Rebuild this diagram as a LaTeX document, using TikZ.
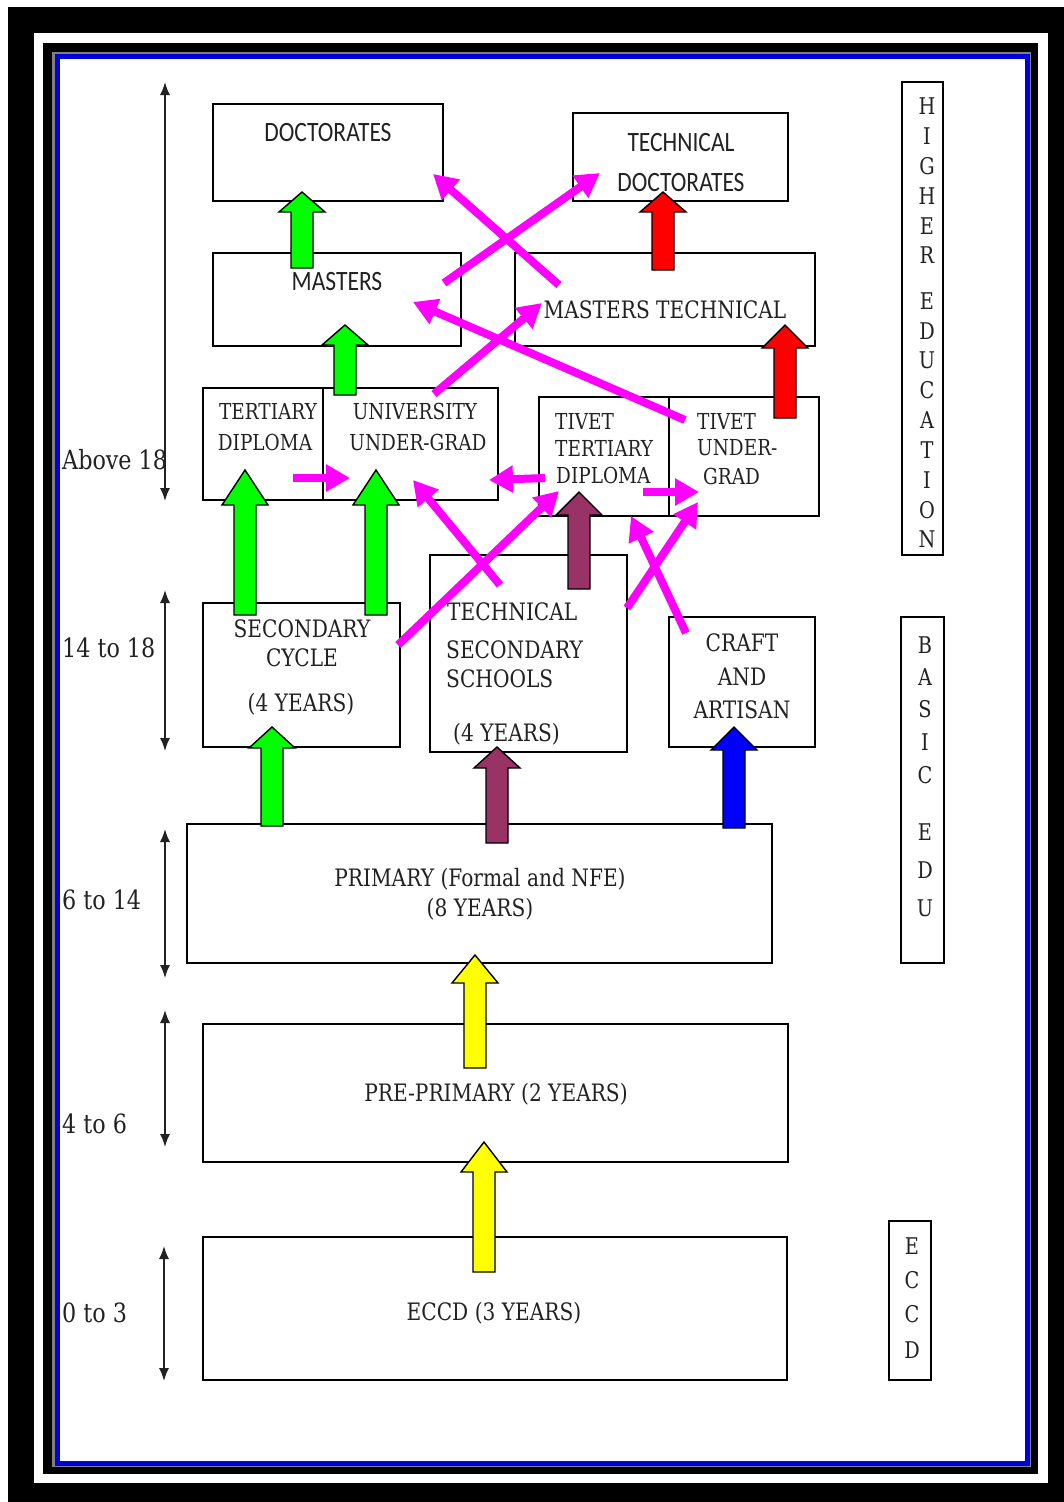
\documentclass[tikz,border=0pt]{standalone}
\usepackage{fontspec}
\setmainfont{DejaVu Serif}[FakeStretch=0.84]
\newfontfamily\calib{Carlito}[FakeStretch=0.84]
\usetikzlibrary{arrows.meta,fit}
\definecolor{mag}{HTML}{FF00FF}
\definecolor{gr}{HTML}{00FF00}
\definecolor{rd}{HTML}{FF0000}
\definecolor{mar}{HTML}{993366}
\definecolor{bl}{HTML}{0000FF}
\definecolor{yl}{HTML}{FFFF00}
\definecolor{txt}{HTML}{222222}
\definecolor{frameblue}{HTML}{0000DD}
\newcommand{\blockarr}[5]{%
  \filldraw[fill=#1,draw=black,line width=1.4pt,line join=miter]
    (#2-11,#3) -- (#2-11,#4+#5) -- (#2-23,#4+#5) -- (#2,#4) --
    (#2+23,#4+#5) -- (#2+11,#4+#5) -- (#2+11,#3) -- cycle;}
\tikzset{
  box/.style={draw=black,line width=2pt,inner sep=0pt},
  ser/.style={font=\fontsize{24}{28}\selectfont,text=txt,inner sep=0pt},
  sers/.style={font=\fontsize{22}{26}\selectfont,text=txt,inner sep=0pt},
  sans/.style={font=\calib\fontsize{28}{32}\selectfont,text=txt,inner sep=0pt},
  age/.style={font=\fontsize{26.5}{30}\selectfont,text=txt,inner sep=0pt,anchor=west},
  vlet/.style={font=\fontsize{23}{26}\selectfont,text=txt,inner sep=0pt},
  agearr/.style={draw=txt,line width=1.5pt,{Latex[length=13pt,width=10pt]}-{Latex[length=13pt,width=10pt]}},
  marr/.style={draw=mag,line width=8pt,-{Triangle[length=24pt,width=26pt]}},
}
\begin{document}
\begin{tikzpicture}[x=1pt,y=-1pt]
\useasboundingbox (0,0) rectangle (1064,1502);
% frame
\fill[white] (0,0) rectangle (1064,1502);
\fill[black] (8,7) rectangle (1064,1502);
\fill[white] (34,33) rectangle (1048,1483);
\fill[black] (43,43) rectangle (1038,1474);
\fill[gray] (52,52) rectangle (1031,1467);
\fill[frameblue] (55,54) rectangle (1030,1466);
\fill[white] (60,59) rectangle (1025,1461);

% ---------- boxes ----------
\node[box,fit={(213,104) (443,201)}] (doc) {};
\node[box,fit={(573,113) (788,201)}] (tdoc) {};
\node[box,fit={(213,253) (461,346)}] (mas) {};
\node[box,fit={(515,253) (815,346)}] (mtech) {};
\node[box,fit={(203,388) (323,500)}] (tdip) {};
\node[box,fit={(323,388) (498,500)}] (univ) {};
\node[box,fit={(539,397) (669,516)}] (ttd) {};
\node[box,fit={(669,397) (819,516)}] (tug) {};
\node[box,fit={(203,603) (400,747)}] (sec) {};
\node[box,fit={(430,555) (627,752)}] (tss) {};
\node[box,fit={(669,617) (815,747)}] (craft) {};
\node[box,fit={(187,824) (772,963)}] (prim) {};
\node[box,fit={(203,1024) (788,1162)}] (pre) {};
\node[box,fit={(203,1237) (787,1380)}] (eccd) {};
\node[box,fit={(902,82) (943,555)}] (hed) {};
\node[box,fit={(901,617) (944,963)}] (bed) {};
\node[box,fit={(889,1221) (931,1380)}] (eced) {};

% ---------- texts ----------
\node[sans] (tdoc1) at (328,133) {DOCTORATES};
\node[sans] (ttd1) at (681,143) {TECHNICAL};
\node[sans] (ttd2) at (681,183) {DOCTORATES};
\node[sans] (tmas) at (337,282) {MASTERS};
\node[ser] (tmt) at (665,310) {MASTERS TECHNICAL};
\node[sers] (ttdp1) at (268,411) {TERTIARY};
\node[sers] (ttdp2) at (265,442) {DIPLOMA};
\node[sers] (tun1) at (415,411) {UNIVERSITY};
\node[sers] (tun2) at (418,442) {UNDER-GRAD};
\node[sers,anchor=west] (ttt1) at (555,421) {TIVET};
\node[sers,anchor=west] (ttt2) at (555,448) {TERTIARY};
\node[sers,anchor=west] (ttt3) at (556,475) {DIPLOMA};
\node[sers,anchor=west] (tug1) at (697,421) {TIVET};
\node[sers,anchor=west] (tug2) at (697,448) {UNDER-};
\node[sers,anchor=west] (tug3) at (703,476) {GRAD};
\node[ser] (tsec1) at (302,629) {SECONDARY};
\node[ser] (tsec2) at (302,658) {CYCLE};
\node[ser] (tsec3) at (301,704) {(4 YEARS)};
\node[ser,anchor=west] (tts1) at (447,612) {TECHNICAL};
\node[ser,anchor=west] (tts2) at (446,650) {SECONDARY};
\node[ser,anchor=west] (tts3) at (446,679) {SCHOOLS};
\node[ser,anchor=west] (tts4) at (453,734) {(4 YEARS)};
\node[ser] (tcr1) at (742,643) {CRAFT};
\node[ser] (tcr2) at (742,677) {AND};
\node[ser] (tcr3) at (742,710) {ARTISAN};
\node[ser] (tpr1) at (480,879) {PRIMARY (Formal and NFE)};
\node[ser] (tpr2) at (480,909) {(8 YEARS)};
\node[ser] (tpre) at (496,1094) {PRE-PRIMARY (2 YEARS)};
\node[ser] (tecc) at (494,1313) {ECCD (3 YEARS)};

% vertical labels
\foreach \l/\y [count=\i] in {H/106,I/136,G/166,H/196,E/226,R/255,E/301,D/331,U/360,C/390,A/420,T/450,I/480,O/510,N/539}
  \node[vlet] (he\i) at (927,\y) {\l};
\foreach \l/\y [count=\i] in {B/645,A/677,S/709,I/742,C/775,E/832,D/870,U/908}
  \node[vlet] (be\i) at (925,\y) {\l};
\foreach \l/\y [count=\i] in {E/1246,C/1280,C/1314,D/1350}
  \node[vlet] (ee\i) at (912,\y) {\l};

% ages
\node[age] (ag1) at (62,460) {Above 18};
\node[age] (ag2) at (62,648) {14 to 18};
\node[age] (ag3) at (62,900) {6 to 14};
\node[age] (ag4) at (62,1124) {4 to 6};
\node[age] (ag5) at (62,1313) {0 to 3};
\coordinate (a1t) at (165,82);  \coordinate (a1b) at (165,501);
\coordinate (a2t) at (165,590); \coordinate (a2b) at (165,751);
\coordinate (a3t) at (165,829); \coordinate (a3b) at (165,978);
\coordinate (a4t) at (165,1010);\coordinate (a4b) at (165,1147);
\coordinate (a5t) at (164,1246);\coordinate (a5b) at (164,1381);
\draw[agearr] (a1t) -- (a1b);
\draw[agearr] (a2t) -- (a2b);
\draw[agearr] (a3t) -- (a3b);
\draw[agearr] (a4t) -- (a4b);
\draw[agearr] (a5t) -- (a5b);

% ---------- block arrows ----------
\blockarr{gr}{302}{268}{192}{20}
\blockarr{rd}{663}{270}{192}{20}
\blockarr{gr}{345}{395}{325}{20}
\blockarr{rd}{785}{418}{325}{23}
\blockarr{gr}{245}{615}{470}{35}
\blockarr{gr}{376}{615}{470}{35}
\blockarr{mar}{579}{589}{492}{23}
\blockarr{gr}{272}{826}{727}{21}
\blockarr{mar}{497}{843}{747}{21}
\blockarr{bl}{734}{828}{727}{23}
\blockarr{yl}{475}{1068}{955}{28}
\blockarr{yl}{484}{1272}{1142}{30}

% ---------- magenta arrows ----------
\coordinate (m1s) at (559,285); \coordinate (m1e) at (433,174);
\coordinate (m2s) at (444,283); \coordinate (m2e) at (600,173);
\coordinate (m3s) at (434,394); \coordinate (m3e) at (542,303);
\coordinate (m4s) at (685,420); \coordinate (m4e) at (413,302);
\coordinate (m5s) at (293,478); \coordinate (m5e) at (350,478);
\coordinate (m6s) at (545,478); \coordinate (m6e) at (489,480);
\coordinate (m7s) at (643,492); \coordinate (m7e) at (699,492);
\coordinate (m8s) at (500,585); \coordinate (m8e) at (413,480);
\coordinate (m9s) at (398,645); \coordinate (m9e) at (559,491);
\coordinate (m10s) at (627,608); \coordinate (m10e) at (698,502);
\coordinate (m11s) at (686,633); \coordinate (m11e) at (631,516);
\foreach \k in {1,...,11}
  \draw[marr] (m\k s) -- (m\k e);
\end{tikzpicture}
\end{document}
